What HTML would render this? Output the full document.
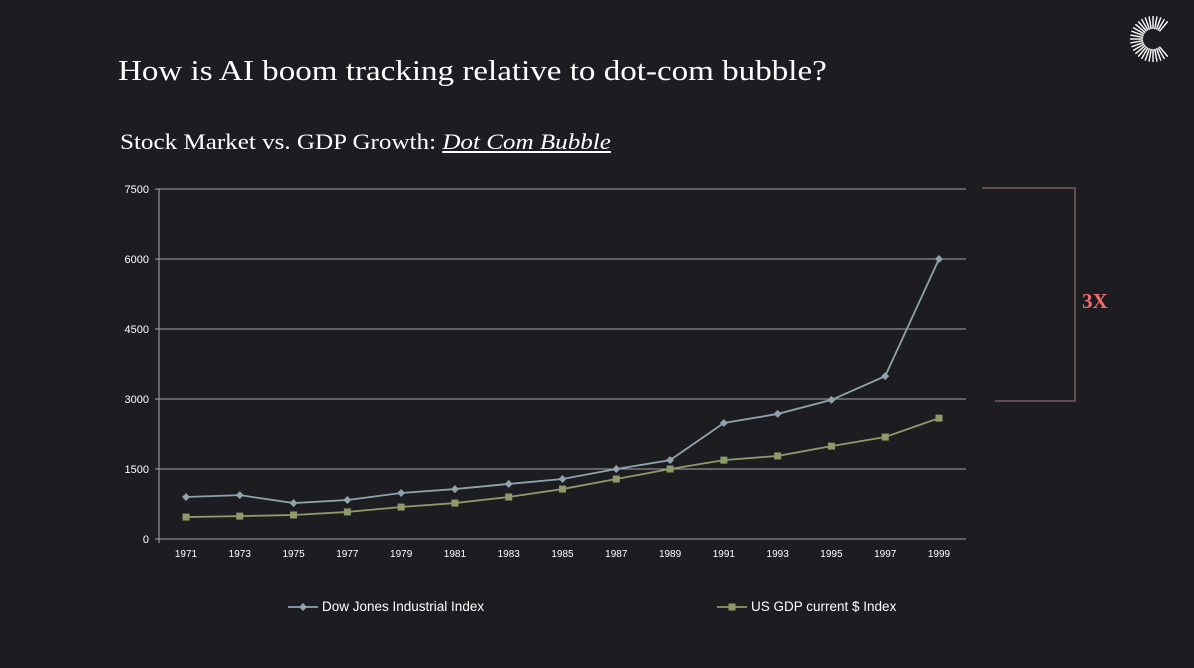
<!DOCTYPE html>
<html><head><meta charset="utf-8"><style>
body{margin:0;width:1194px;height:668px;background:#1d1c21;overflow:hidden;position:relative;font-family:"Liberation Sans",sans-serif}
.t{position:absolute;color:#fff;font-family:"Liberation Serif",serif;transform-origin:left top;white-space:nowrap}
</style></head><body>
<div class="t" style="left:118px;top:55px;font-size:29px;transform:scaleX(1.14)">How is AI boom tracking relative to dot-com bubble?</div>
<div class="t" style="left:120px;top:129px;font-size:22px;transform:scaleX(1.14)">Stock Market vs. GDP Growth: <i style="text-decoration:underline">Dot Com Bubble</i></div>
<svg style="position:absolute;left:1128px;top:14px" width="50" height="50" viewBox="-25 -25 50 50" id="logo"></svg>
<svg id="chart" width="1194" height="668" style="position:absolute;left:0;top:0;pointer-events:none"></svg>
<script>
const years=[1971,1973,1975,1977,1979,1981,1983,1985,1987,1989,1991,1993,1995,1997,1999];
const dow=[900,940,770,835,985,1070,1180,1285,1500,1690,2485,2680,2980,3490,6000];
const gdp=[470,490,515,580,685,770,900,1070,1285,1500,1690,1780,1990,2185,2590];
const yTicks=[0,1500,3000,4500,6000,7500];
const NS='http://www.w3.org/2000/svg';
const svg=document.getElementById('chart');
const x=i=>186+i*(939-186)/(years.length-1);
const y=v=>539-v*350/7500;
function mk(t,a,p){const e=document.createElementNS(NS,t);for(const k in a)e.setAttribute(k,a[k]);(p||svg).appendChild(e);return e;}
yTicks.forEach(v=>{
 const l=mk('line',{x1:155,x2:966,y1:y(v),y2:y(v),stroke:'#a8a8a8','stroke-width':1});
 
 
 const t=mk('text',{x:149,y:y(v)+4,'text-anchor':'end',fill:'#fff','font-size':11});t.textContent=v;
 
 
});
mk('line',{x1:159,x2:159,y1:189,y2:543,stroke:'#aaa'});
years.forEach((yr,i)=>{const t=mk('text',{x:x(i),y:557,'text-anchor':'middle',fill:'#fff','font-size':10});t.textContent=yr;
 
 });
function series(vals,col,shape,name){
 const p=mk('polyline',{points:vals.map((v,i)=>x(i)+','+y(v)).join(' '),fill:'none',stroke:col,'stroke-width':1.8});
 
 
 vals.forEach((v,i)=>{let m;
  if(shape==='d')m=mk('polygon',{points:`${x(i)},${y(v)-4} ${x(i)+4},${y(v)} ${x(i)},${y(v)+4} ${x(i)-4},${y(v)}`,fill:col});
  else m=mk('rect',{x:x(i)-3.5,y:y(v)-3.5,width:7,height:7,fill:col});
  
  });
}
series(dow,'#8fa3ad','d','dow');
series(gdp,'#8e9a6a','s','gdp');
mk('polyline',{points:'982,188 1075,188 1075,401 995,401',fill:'none',stroke:'#7a5a5c','stroke-width':1.5});
const t3=mk('text',{x:1082,y:308,fill:'#f26d6d','font-size':21,'font-weight':'bold','font-family':'Liberation Serif,serif'});t3.textContent='3X';


function leg(x0,col,shape,label,name){
 const g=mk('g',{});
 mk('line',{x1:x0,x2:x0+30,y1:607,y2:607,stroke:col,'stroke-width':1.8},g);
 if(shape==='d')mk('polygon',{points:`${x0+15},603 ${x0+19},607 ${x0+15},611 ${x0+11},607`,fill:col},g);
 else mk('rect',{x:x0+11.5,y:603.5,width:7,height:7,fill:col},g);
 const t=mk('text',{x:x0+34,y:611,fill:'#fff','font-size':13.5},g);t.textContent=label;
}
leg(288,'#8fa3ad','d','Dow Jones Industrial Index','legend-dow');
leg(717,'#8e9a6a','s','US GDP current $ Index','legend-gdp');
const lg=document.getElementById('logo');
for(let a=0;a<360;a+=10){if(a>=320||a<=40)continue;const r=a*Math.PI/180;
 mk('line',{x1:10*Math.cos(r),y1:-10*Math.sin(r),x2:23*Math.cos(r),y2:-23*Math.sin(r),stroke:'#fff','stroke-width':1.4},lg);}
</script>
</body></html>
